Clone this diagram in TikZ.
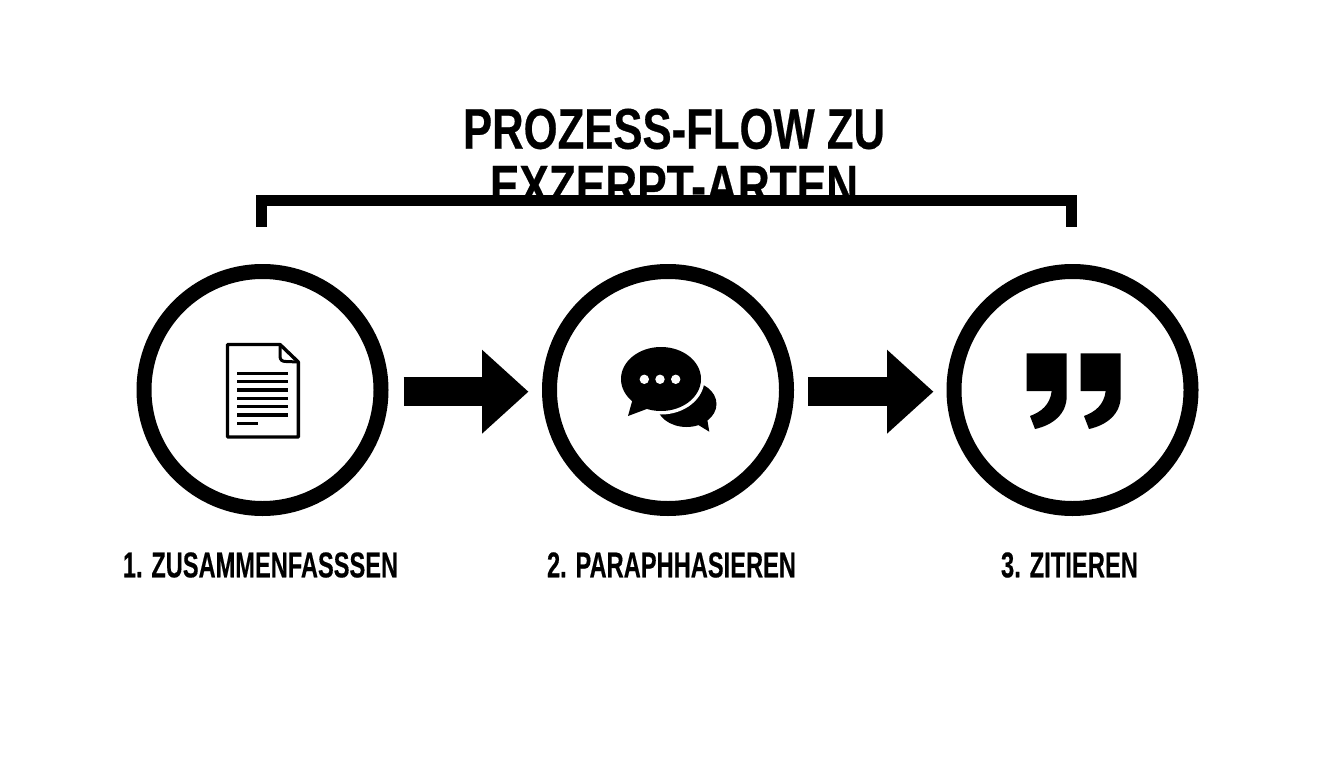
\documentclass[tikz,border=0pt]{standalone}
\usepackage{fontspec}
\usepackage{graphicx}
\setmainfont{Liberation Sans}[BoldFeatures={FakeBold=0.5}]
\usetikzlibrary{arrows.meta}
\tikzset{
  x=1pt,y=-1pt,
  stepcircle/.style={circle,draw=black,line width=15pt,fill=white,minimum size=237pt,inner sep=0pt,outer sep=7.5pt},
  blockarrow/.style={draw=black,line width=29pt,-{Triangle[length=46.5pt,width=81pt]}},
  steplabel/.style={inner sep=0pt,text=black},
  titleline/.style={inner sep=0pt,text=black},
  iconline/.style={line width=3.3pt,line cap=butt},
  bracketline/.style={draw=black,line width=10.5pt,line join=miter}
}
\newcommand{\fitbox}[3]{\resizebox{#1pt}{#2pt}{\bfseries #3}}
\begin{document}
\begin{tikzpicture}
\useasboundingbox (0,0) rectangle (1344,768);
\fill[white] (0,0) rectangle (1344,768);
% title
\node[titleline] (title1) at (674,129) {\fitbox{422}{40}{PROZESS-FLOW ZU}};
\begin{scope}
  \clip (400,150) rectangle (950,200);
  \node[titleline] (title2) at (674,186) {\fitbox{368}{40}{EXZERPT-ARTEN}};
\end{scope}
% bracket
\coordinate (bl) at (261.5,227);
\coordinate (br) at (1071.5,227);
\draw[bracketline] (bl) -- (261.5,200.5) -- (1071.5,200.5) -- (br);
% circles
\node[stepcircle] (c1) at (262.5,390) {};
\node[stepcircle] (c2) at (668,390) {};
\node[stepcircle] (c3) at (1072.5,390) {};
% arrows
\draw[blockarrow] ([xshift=15pt,yshift=-1.7pt]c1.east) -- ([xshift=-13.5pt,yshift=-1.7pt]c2.west);
\draw[blockarrow] ([xshift=14pt,yshift=-1.7pt]c2.east) -- ([xshift=-13pt,yshift=-1.7pt]c3.west);
% document icon
\draw[black,line width=3.4pt,line join=round,fill=white]
  (227.5,344.5) -- (280,344.5) -- (298.3,362) -- (298.3,437) -- (227.5,437) -- cycle;
\draw[black,line width=3pt,line join=round] (280,344.5) -- (280,356) .. controls (280,360) and (282,361.5) .. (286,361.5) -- (298.3,362);
\foreach \y in {373.3,381.7,390,398.3,406.7,415}
  \draw[black,iconline] (237.3,\y) -- (288.3,\y);
\draw[black,iconline] (237.3,423.3) -- (258,423.3);
% speech bubbles
\fill[black] (686.5,404) ellipse (30 and 23);
\fill[black] (696.7,424) -- (709.3,431.7) -- (706.7,416) -- cycle;
\fill[white] (661,379) ellipse (43.5 and 35.5);
\fill[black] (661,379) ellipse (40 and 32);
\fill[black] (633,398) -- (628,416) -- (648,408.5) -- cycle;
\foreach \x in {644.3,660,675.7}
  \fill[white] (\x,379.3) circle (4.7);
% quotes
\foreach \dx in {0,54}{
  \fill[black,xshift=\dx pt]
    (1026.7,353.3) -- (1066.7,353.3) -- (1066.7,396)
    .. controls (1066.7,414) and (1053,425) .. (1035,429)
    -- (1030,416)
    .. controls (1041,412) and (1050,405) .. (1051.7,391)
    -- (1026.7,391) -- cycle;
}
% labels
\node[steplabel] (l1) at (260.5,565) {\fitbox{275}{25}{1. ZUSAMMENFASSSEN}};
\node[steplabel] (l2) at (671.5,565) {\fitbox{249}{25}{2. PARAPHHASIEREN}};
\node[steplabel] (l3) at (1069.5,565) {\fitbox{137}{25}{3. ZITIEREN}};
\end{tikzpicture}
\end{document}
